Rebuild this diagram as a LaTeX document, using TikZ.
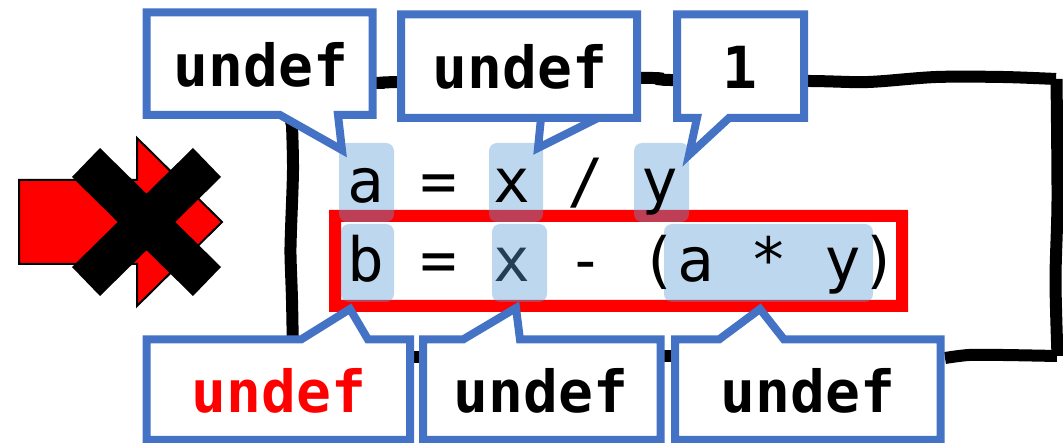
\documentclass[tikz,border=0pt]{standalone}
\usepackage{fontspec}
\setmonofont{DejaVu Sans Mono}
\newfontfamily\codefont{DejaVu Sans Mono}
\definecolor{callblue}{HTML}{4472C4}
\definecolor{hlblue}{HTML}{5B9BD5}
\tikzset{
  x=1bp,y=-1bp,
  callout/.style={draw=callblue,fill=white,line width=8bp,miter limit=20,line join=miter},
  loopline/.style={draw=black,line width=12bp},
  hl/.style={fill=hlblue,fill opacity=.4,rounded corners=8bp},
  codetext/.style={anchor=base west,inner sep=0pt,outer sep=0pt,font=\codefont\fontsize{61bp}{61bp}\selectfont},
  calltext/.style={anchor=base,inner sep=0pt,outer sep=0pt,font=\codefont\bfseries\fontsize{58bp}{58bp}\selectfont},
}
\begin{document}
\begin{tikzpicture}
\useasboundingbox (0,0) rectangle (1063,443);
% loop
\draw[loopline] plot[smooth] coordinates {(292,125) (293,170) (291,230) (290.5,255) (292,300) (293,356)};
\draw[loopline] (293,356) -- (300,356);
\draw[loopline] plot[smooth] coordinates {(292,125) (293,82) (380,83) (400,82) (641,78) (670,80) (810,81) (868,82) (936,77) (1003,77) (1056,79)};
\draw[loopline] plot[smooth] coordinates {(1056.5,79) (1057.5,200) (1055.5,280) (1057.5,356)};
\draw[loopline] plot[smooth] coordinates {(1057,356) (1003,355) (969,355) (945,358)};
\draw[loopline] (405,357) -- (430,357);
\draw[loopline] (655,356) -- (680,356);
% arrow and cross
\draw[draw=black,fill=red,line width=2bp] (19,180) -- (137,180) -- (137,138) -- (222,222) -- (137,306) -- (137,264) -- (19,264) -- cycle;
\fill[black] (72,177) -- (100,148) -- (221,267) -- (193,296) -- cycle;
\fill[black] (193,148) -- (221,177) -- (100,296) -- (72,267) -- cycle;
% code
\node[codetext] (slash) at (567,203) {/};
\fill[red,even odd rule] (329,210) rectangle (908,312) (341,222) rectangle (896,300);
\fill[hl] (339,143) rectangle (394,222);
\fill[hl] (489,143) rectangle (543,222);
\fill[hl] (634,143) rectangle (689,222);
\fill[hl] (341,224) rectangle (394,302);
\fill[hl] (664,224) rectangle (873,302);
\node[codetext] (rowa) at (347,203) {a = x};
\node[codetext] (rowy) at (641,203) {y};
\node[codetext] (rowb) at (347,282) {b = x - (a * y)};
\fill[hl] (492,224) rectangle (547,302);
% callouts
\draw[callout] (146.5,12.5) -- (372.5,12.5) -- (372.5,115) -- (338,115) -- (342,150) -- (280,115) -- (146.5,115) -- cycle;
\node[calltext] (c1) at (261,87) {undef};
\draw[callout] (401,14.5) -- (637,14.5) -- (637,118) -- (541,118) -- (538,148) -- (598,118) -- (401,118) -- cycle;
\draw[callout] (677,14.5) -- (804,14.5) -- (804,118) -- (729,118) -- (689,155) -- (697,118) -- (677,118) -- cycle;
\draw[callout] (146.5,339.5) -- (301,339.5) -- (350,309) -- (368,339.5) -- (410,339.5) -- (410,440) -- (146.5,440) -- cycle;
\draw[callout] (423,339.5) -- (463,339.5) -- (516,308) -- (520,339.5) -- (660.5,339.5) -- (660.5,440) -- (423,440) -- cycle;
\draw[callout] (675,339.5) -- (719,339.5) -- (760,309) -- (784,339.5) -- (940.5,339.5) -- (940.5,440) -- (675,440) -- cycle;
\node[calltext] (c2) at (520,89) {undef};
\node[calltext] (c3) at (740,89) {1};
\node[calltext,text=red] (c4) at (279,413) {undef};
\node[calltext] (c5) at (541,413) {undef};
\node[calltext] (c6) at (808,413) {undef};
\end{tikzpicture}
\end{document}
